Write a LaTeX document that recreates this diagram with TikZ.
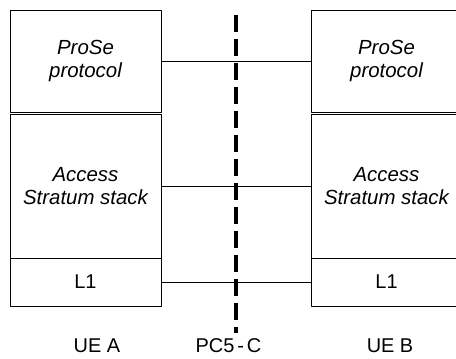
\documentclass[tikz,border=0pt]{standalone}
\usepackage{fontspec}
\setmainfont{Liberation Sans}
\usetikzlibrary{positioning}

\tikzset{
  layer/.style={draw, rectangle, minimum width=151bp, inner sep=0pt, align=center,
    font=\fontsize{20.5}{22.5}\selectfont\itshape},
  phys/.style={layer, font=\fontsize{20}{22}\selectfont},
  peer/.style={draw, line width=0.8bp},
  label/.style={font=\fontsize{20}{22}\selectfont, inner sep=0pt}
}

\begin{document}
\begin{tikzpicture}[line cap=round,line join=round,x=1bp,y=-1bp,line width=0.8bp]
\useasboundingbox (0,0) rectangle (456,358);
% UE A stack
\node[layer, minimum height=102bp] (protoA) at (85.5,61) {ProSe\\protocol};
\node[layer, minimum height=144bp] (asA) at (85.5,186) {Access\\Stratum stack};
\node[phys, minimum height=48bp] (lA) at (85.5,282) {L1};
% UE B stack
\node[layer, minimum height=102bp] (protoB) at (386.5,61) {ProSe\\protocol};
\node[layer, minimum height=144bp] (asB) at (386.5,186) {Access\\Stratum stack};
\node[phys, minimum height=48bp] (lB) at (386.5,282) {L1};
% peer links
\draw[peer] (protoA.east) -- (protoB.west);
\draw[peer] (asA.east) -- (asB.west);
\draw[peer] (lA.east) -- (lB.west);
% reference point
\coordinate (pcTop) at (236,15);
\coordinate (pcBot) at (236,333);
\draw[line width=3.6bp, line cap=butt, dash pattern=on 17bp off 7bp] (pcTop) -- (pcBot);
\node[label] (ueA) at (97,346) {UE A};
\node[label] (pcC) at (228.5,346) {PC5\kern3bp-\kern3bp C};
\node[label] (ueB) at (390,346) {UE B};
\end{tikzpicture}
\end{document}
